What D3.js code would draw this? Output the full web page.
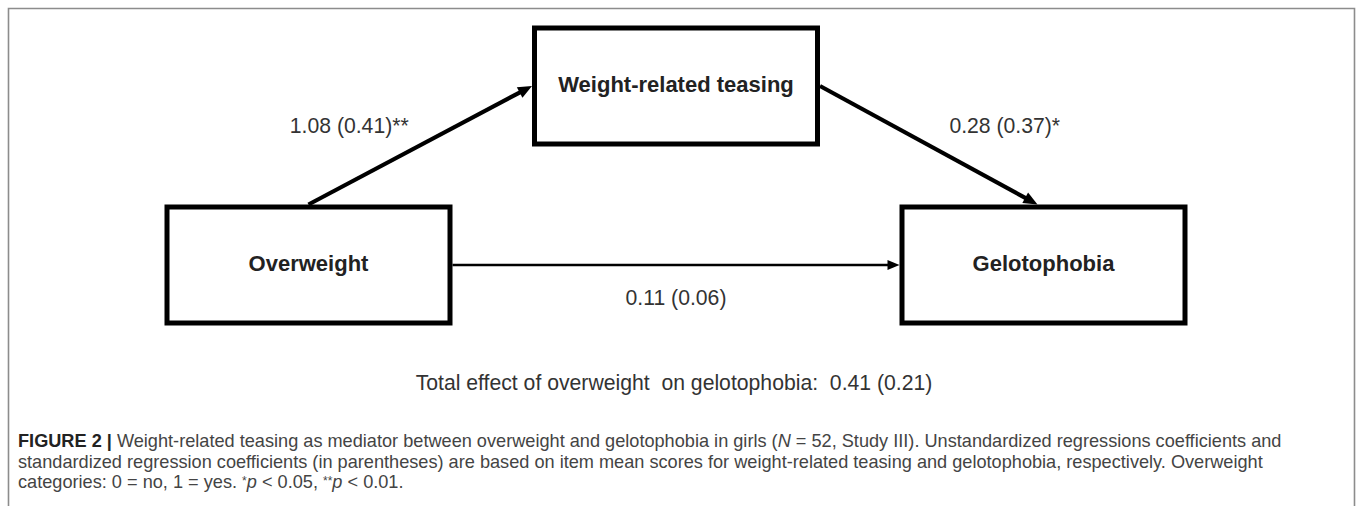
<!DOCTYPE html>
<meta charset="utf-8">
<script src="https://d3js.org/d3.v7.min.js"></script>
<style>
  body { margin: 0; background: #fff; }
</style>
<div id="my_dataviz"></div>

<script>
// variables of the mediation model
var nodes = ["Overweight", "Weight-related teasing", "Gelotophobia"];
var nodeRow = [1, 0, 1];   // mediator on the upper row

// paths between the variables
var pathFrom = ["Overweight", "Weight-related teasing", "Overweight"];
var pathTo = ["Weight-related teasing", "Gelotophobia", "Gelotophobia"];
var pathB = [1.08, 0.28, 0.11];       // unstandardized
var pathBeta = [0.41, 0.37, 0.06];    // standardized
var pathStars = ["**", "*", ""];

// total effect
var totalText = "Total effect of overweight  on gelotophobia:";
var totalB = 0.41, totalBeta = 0.21;

// caption, one array of pieces per line: [text, style]
var captionLines = [
  [["FIGURE 2 |", "b"], [" Weight-related teasing as mediator between overweight and gelotophobia in girls (", ""], ["N", "i"], [" = 52, Study III). Unstandardized regressions coefficients and", ""]],
  [["standardized regression coefficients (in parentheses) are based on item mean scores for weight-related teasing and gelotophobia, respectively. Overweight", ""]],
  [["categories: 0 = no, 1 = yes. ", ""], ["*", "sup"], ["p", "i"], [" < 0.05, ", ""], ["**", "sup"], ["p", "i"], [" < 0.01.", ""]]
];

var width = 1358, height = 506;
var boxW = 283, boxH = 116, boxStroke = 5;

var svg = d3.select("#my_dataviz")
  .append("svg")
  .attr("width", width)
  .attr("height", height)
  .style("font-family", "'Liberation Sans', Arial, sans-serif");

// outer frame (open at the bottom)
svg.append("path")
  .attr("d", "M8.5," + height + "V8.5H1354.5V" + height)
  .attr("fill", "none")
  .attr("stroke", "#8c8c8c")
  .attr("stroke-width", 1.6);

var x = d3.scalePoint().domain(nodes).range([308.5, 1043.5]);
var y = d3.scalePoint().domain([0, 1]).range([86, 265]);

var rowOf = {};
nodes.forEach((n, i) => rowOf[n] = nodeRow[i]);
var cx = n => x(n);
var cy = n => y(rowOf[n]);

function anchor(n, side) {
  var o = boxStroke / 2;
  if (side == "top") return [cx(n), cy(n) - boxH / 2 - o];
  if (side == "left") return [cx(n) - boxW / 2 - o, cy(n)];
  return [cx(n) + boxW / 2 + o, cy(n)];
}

var fmt = d3.format(".2f");

var paths = pathFrom.map((f, i) => {
  var t = pathTo[i], s, e, off, sw;
  if (rowOf[t] < rowOf[f]) { s = anchor(f, "top"); e = anchor(t, "left"); off = [-71, -20]; sw = 4.2; }
  else if (rowOf[t] > rowOf[f]) { s = anchor(f, "right"); e = anchor(t, "top"); e[0] -= 6; off = [76, -20]; sw = 4.2; }
  else { s = anchor(f, "right"); e = anchor(t, "left"); off = [0, 32]; sw = 2.6; }
  return {s: s, e: e, off: off, sw: sw,
    label: fmt(pathB[i]) + " (" + fmt(pathBeta[i]) + ")" + pathStars[i]};
});

// arrows
paths.forEach(p => {
  var dx = p.e[0] - p.s[0], dy = p.e[1] - p.s[1];
  var len = Math.sqrt(dx * dx + dy * dy);
  var ux = dx / len, uy = dy / len;
  var hl = p.sw > 3 ? 14 : 12, hw = p.sw > 3 ? 6 : 5;
  var bx = p.e[0] - ux * hl, by = p.e[1] - uy * hl;
  svg.append("line")
    .attr("x1", p.s[0]).attr("y1", p.s[1])
    .attr("x2", p.e[0] - ux * hl * 0.7).attr("y2", p.e[1] - uy * hl * 0.7)
    .attr("stroke", "#000")
    .attr("stroke-width", p.sw);
  svg.append("polygon")
    .attr("points", [p.e, [bx - uy * hw, by + ux * hw], [bx + uy * hw, by - ux * hw]].map(d => d.join(",")).join(" "))
    .attr("fill", "#000");
  svg.append("text")
    .attr("x", (p.s[0] + p.e[0]) / 2 + p.off[0])
    .attr("y", (p.s[1] + p.e[1]) / 2 + p.off[1])
    .attr("dy", "0.36em")
    .attr("text-anchor", "middle")
    .style("font-size", "21.2px")
    .style("fill", "#333")
    .text(p.label);
});

// boxes
var box = svg.selectAll("g.node")
  .data(nodes)
  .enter().append("g")
  .attr("class", "node");

box.append("rect")
  .attr("x", d => cx(d) - boxW / 2)
  .attr("y", d => cy(d) - boxH / 2)
  .attr("width", boxW)
  .attr("height", boxH)
  .attr("fill", "#fff")
  .attr("stroke", "#000")
  .attr("stroke-width", boxStroke);

box.append("text")
  .attr("x", d => cx(d))
  .attr("y", d => cy(d) - 2)
  .attr("dy", "0.36em")
  .attr("text-anchor", "middle")
  .style("font-size", "22px")
  .style("font-weight", "bold")
  .style("fill", "#222")
  .text(d => d);

// total effect line
svg.append("text")
  .attr("x", 674)
  .attr("y", 382)
  .attr("dy", "0.36em")
  .attr("text-anchor", "middle")
  .style("font-size", "21.2px")
  .style("fill", "#333")
  .style("white-space", "pre")
  .text(totalText + "  " + fmt(totalB) + " (" + fmt(totalBeta) + ")");

// caption
var cap = svg.append("g")
  .style("font-size", "15.5px")
  .style("fill", "#444");

captionLines.forEach((line, i) => {
  var t = cap.append("text")
    .attr("x", 18)
    .attr("y", 447 + i * 20.5)
    .style("white-space", "pre");
  line.forEach(part => {
    var ts = t.append("tspan").text(part[0]);
    if (part[1] == "b") ts.style("font-weight", "bold").style("fill", "#222");
    if (part[1] == "i") ts.style("font-style", "italic");
    if (part[1] == "sup") ts.style("font-size", "12px").attr("dy", -3);
    if (part[1] == "i" && i == 2) ts.attr("dy", 3);
  });
});

// fit the caption to the reference line width
var first = cap.select("text").node().getComputedTextLength();
cap.style("font-size", (15.5 * 1264 / first) + "px");
</script>
